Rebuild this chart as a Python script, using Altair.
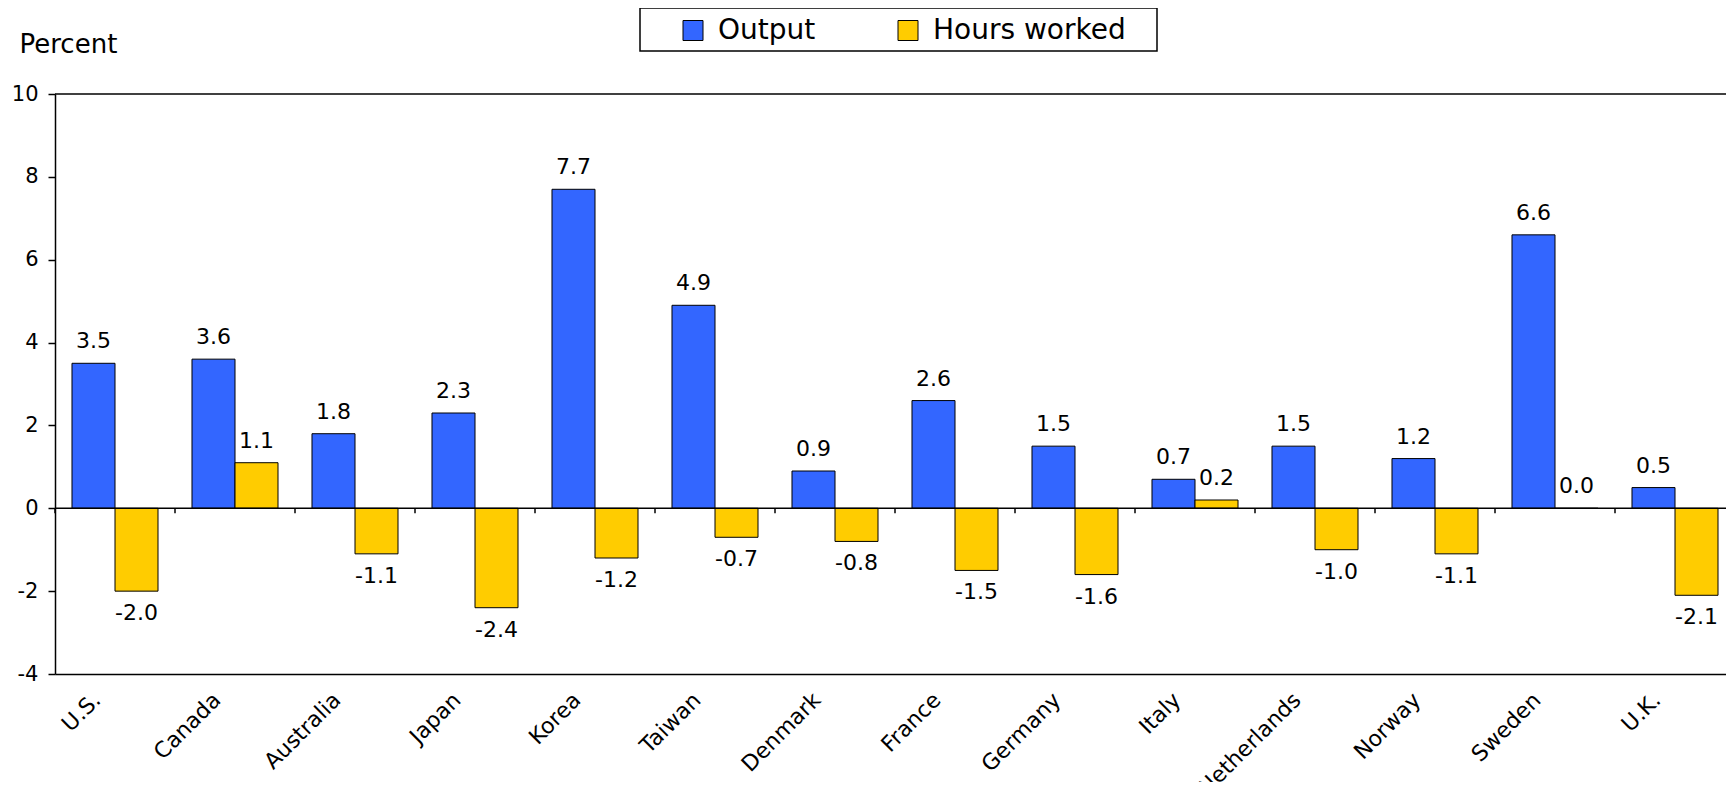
import altair as alt
import pandas as pd

countries = ["U.S.", "Canada", "Australia", "Japan", "Korea", "Taiwan", "Denmark",
             "France", "Germany", "Italy", "Netherlands", "Norway", "Sweden", "U.K."]
output = [3.5, 3.6, 1.8, 2.3, 7.7, 4.9, 0.9, 2.6, 1.5, 0.7, 1.5, 1.2, 6.6, 0.5]
hours = [-2.0, 1.1, -1.1, -2.4, -1.2, -0.7, -0.8, -1.5, -1.6, 0.2, -1.0, -1.1, 0.0, -2.1]
series = ["Output", "Hours worked"]
colors = ["#3366FF", "#FFCC00"]
y_ticks = [-4, -2, 0, 2, 4, 6, 8, 10]

rows = []
for c, o, h in zip(countries, output, hours):
    rows.append({"country": c, "series": "Output", "value": o, "label": f"{o:.1f}"})
    rows.append({"country": c, "series": "Hours worked", "value": h, "label": f"{h:.1f}"})
df = pd.DataFrame(rows)
cdf = pd.DataFrame({"country": countries})
one = pd.DataFrame({"a": [0]})

FONT = "DejaVu Sans"
STEP = 120
W = 1671
H = 580

xscale = alt.Scale(domain=countries, paddingInner=0, paddingOuter=0,
                   range=[0, STEP * len(countries)])
yscale = alt.Scale(domain=[-4, 10], nice=False)
offscale = alt.Scale(domain=series, paddingInner=0, paddingOuter=0.395)

xaxis = alt.Axis(title=None, labelAngle=-45, labelAlign="right", labelBaseline="top",
                 labelFont=FONT, labelFontSize=22, labelColor="black",
                 labelPadding=15, labelOffset=-25, ticks=False, labelLimit=400,
                 domainColor="black", domainWidth=1.5, grid=False, labelOverlap=False)
yaxis = alt.Axis(values=y_ticks, labelExpr="'' + datum.value", labelFont=FONT,
                 labelFontSize=21, labelColor="black", tickSize=7, tickColor="black",
                 tickWidth=1.5, domainColor="black", domainWidth=1.5, labelPadding=10,
                 grid=False, title="Percent", titleAngle=0, titleX=-36, titleY=-42,
                 titleAlign="left", titleBaseline="alphabetic", titleFont=FONT,
                 titleFontSize=26, titleFontWeight="normal", titleColor="black")

X = alt.X("country:N", scale=xscale, sort=countries, axis=xaxis)
XO = alt.XOffset("series:N", scale=offscale, sort=series)
Y = alt.Y("value:Q", scale=yscale, axis=yaxis)

bars = alt.Chart(df).mark_bar(stroke="black", strokeWidth=1).encode(
    x=X, xOffset=XO, y=Y,
    color=alt.Color("series:N", scale=alt.Scale(domain=series, range=colors),
                    legend=alt.Legend(orient="none", legendX=624, legendY=-77.5,
                                      direction="horizontal", title=None,
                                      symbolType="square", symbolSize=400,
                                      symbolStrokeColor="black", symbolStrokeWidth=1,
                                      labelFont=FONT, labelFontSize=28, labelColor="black",
                                      labelOffset=11, columnPadding=78, padding=0,
                                      labelLimit=400)),
)

pos_labels = alt.Chart(df).transform_filter("datum.value >= 0").mark_text(
    baseline="alphabetic", dy=-15, font=FONT, fontSize=22, color="black"
).encode(x=X, xOffset=XO, y=Y, text="label:N")

neg_labels = alt.Chart(df).transform_filter("datum.value < 0").mark_text(
    baseline="top", dy=12, font=FONT, fontSize=22, color="black"
).encode(x=X, xOffset=XO, y=Y, text="label:N")

zero_line = alt.Chart(one).mark_rule(color="black", strokeWidth=1.5).encode(
    y=alt.datum(0, scale=yscale, axis=yaxis))
top_line = alt.Chart(one).mark_rule(color="black", strokeWidth=1.5).encode(
    y=alt.datum(10, scale=yscale, axis=yaxis))

ticks = alt.Chart(cdf).mark_rule(color="black", strokeWidth=1.5).encode(
    x=alt.X("country:N", scale=xscale, sort=countries, axis=xaxis, bandPosition=0),
    y=alt.datum(0, scale=yscale, axis=yaxis),
    y2=alt.datum(-0.12),
)

legend_frame = alt.Chart(one).mark_rect(fill="white", stroke="black", strokeWidth=1.5).encode(
    x=alt.value(585), x2=alt.value(1102), y=alt.value(-86), y2=alt.value(-43))

chart = alt.layer(legend_frame, bars, zero_line, top_line, ticks, pos_labels, neg_labels).properties(
    width=W, height=H,
    padding={"left": 47, "top": 86, "right": 0, "bottom": 108},
    autosize=alt.AutoSizeParams(type="none"),
).configure_view(stroke=None)

chart.save("out.html", embed_options={"renderer": "svg", "actions": False})
